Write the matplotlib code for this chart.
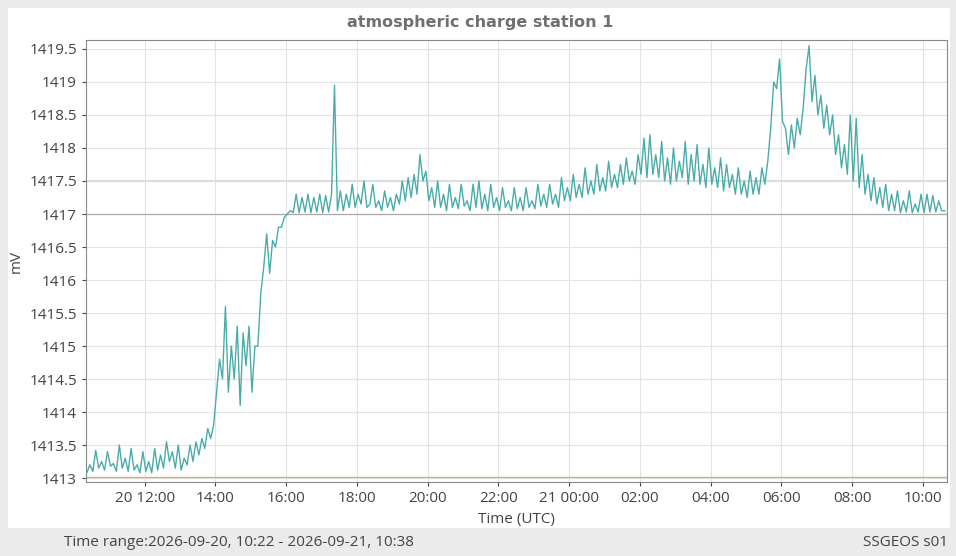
import numpy as np
import matplotlib
matplotlib.use("Agg")
import matplotlib.pyplot as plt
from matplotlib.patches import Rectangle

# Hours since 2026-09-20 00:00 UTC; samples every 5 min from 10:22
start_hour = 10 + 22/60
step_hour = 5/60
values = [
 1413.08,1413.2,1413.1,1413.42,1413.15,1413.25,1413.12,1413.4,1413.18,1413.22,1413.1,1413.5,
 1413.15,1413.3,1413.1,1413.45,1413.12,1413.2,1413.08,1413.4,1413.1,1413.25,1413.08,1413.45,
 1413.12,1413.35,1413.15,1413.55,1413.25,1413.4,1413.15,1413.5,1413.12,1413.3,1413.2,1413.5,
 1413.25,1413.55,1413.35,1413.6,1413.45,1413.75,1413.6,1413.8,1414.3,1414.8,1414.5,1415.6,
 1414.3,1415.0,1414.5,1415.3,1414.1,1415.2,1414.7,1415.3,1414.3,1415.0,1415.0,1415.8,
 1416.2,1416.7,1416.1,1416.6,1416.5,1416.8,1416.8,1416.95,1417.0,1417.05,1417.02,1417.3,
 1417.02,1417.25,1417.03,1417.3,1417.02,1417.25,1417.03,1417.3,1417.02,1417.28,1417.03,1417.3,
 1418.95,1417.05,1417.35,1417.05,1417.3,1417.1,1417.45,1417.1,1417.3,1417.15,1417.5,1417.1,
 1417.15,1417.45,1417.1,1417.2,1417.05,1417.35,1417.1,1417.25,1417.05,1417.3,1417.15,1417.5,
 1417.2,1417.55,1417.25,1417.6,1417.3,1417.9,1417.5,1417.65,1417.2,1417.4,1417.1,1417.5,
 1417.1,1417.3,1417.05,1417.45,1417.1,1417.25,1417.08,1417.45,1417.12,1417.2,1417.05,1417.45,
 1417.1,1417.5,1417.08,1417.3,1417.05,1417.45,1417.1,1417.25,1417.05,1417.4,1417.1,1417.2,
 1417.05,1417.4,1417.08,1417.25,1417.05,1417.4,1417.1,1417.2,1417.08,1417.45,1417.12,1417.3,
 1417.1,1417.45,1417.15,1417.3,1417.1,1417.55,1417.2,1417.4,1417.2,1417.6,1417.25,1417.45,
 1417.25,1417.7,1417.3,1417.5,1417.3,1417.75,1417.35,1417.55,1417.35,1417.8,1417.4,1417.6,
 1417.4,1417.75,1417.45,1417.85,1417.5,1417.65,1417.45,1417.9,1417.6,1418.15,1417.55,1418.2,
 1417.6,1417.9,1417.55,1418.1,1417.5,1417.85,1417.45,1418.0,1417.5,1417.8,1417.55,1418.1,
 1417.45,1417.9,1417.5,1418.05,1417.45,1417.75,1417.4,1418.0,1417.45,1417.7,1417.4,1417.85,
 1417.35,1417.75,1417.4,1417.6,1417.3,1417.7,1417.3,1417.5,1417.25,1417.65,1417.3,1417.55,
 1417.3,1417.7,1417.45,1417.8,1418.3,1419.0,1418.9,1419.35,1418.4,1418.3,1417.9,1418.35,
 1418.0,1418.45,1418.2,1418.6,1419.2,1419.55,1418.7,1419.1,1418.5,1418.8,1418.3,1418.65,
 1418.2,1418.5,1417.9,1418.2,1417.7,1418.05,1417.6,1418.5,1417.5,1418.45,1417.4,1417.9,
 1417.3,1417.6,1417.2,1417.55,1417.15,1417.4,1417.1,1417.45,1417.05,1417.3,1417.05,1417.35,
 1417.02,1417.2,1417.03,1417.35,1417.02,1417.15,1417.03,1417.3,1417.02,1417.3,1417.03,1417.28,
 1417.03,1417.2,1417.05,1417.05,
]
tick_hours = [12, 14, 16, 18, 20, 22, 24, 26, 28, 30, 32, 34]
tick_labels = ["20 12:00", "14:00", "16:00", "18:00", "20:00", "22:00",
               "21 00:00", "02:00", "04:00", "06:00", "08:00", "10:00"]
y_ticks = [1413, 1413.5, 1414, 1414.5, 1415, 1415.5, 1416, 1416.5, 1417,
           1417.5, 1418, 1418.5, 1419, 1419.5]
y_labels = ["1413", "1413.5", "1414", "1414.5", "1415", "1415.5", "1416", "1416.5",
            "1417", "1417.5", "1418", "1418.5", "1419", "1419.5"]

plt.rcParams['font.family'] = ['Open Sans', 'DejaVu Sans']
fig = plt.figure(figsize=(9.56, 5.56), dpi=100, facecolor="#ebebeb")
fig.patches.append(Rectangle((8/956, 28/556), 942/956, 520/556, transform=fig.transFigure,
                             facecolor="white", edgecolor="none", zorder=-10))
ax = fig.add_axes([86/956, 74/556, 861/956, 442/556])
ax.set_zorder(5)
x = start_hour + step_hour * np.arange(len(values))
ax.plot(x, values, color="#4aacaa", lw=1.0, zorder=3)
ax.axhline(1417, color="#aaaaaa", lw=0.9, zorder=2)
ax.axhline(1417.5, color="#dddddd", lw=1.5, zorder=2)
ax.axhline(1413.02, color="#c8b48c", lw=1.0, zorder=2)
ax.set_xlim(10 + 20.5/60, 34 + 41/60)
ax.set_ylim(1412.94, 1419.636)
ax.set_xticks(tick_hours)
ax.set_xticklabels(tick_labels)
ax.set_yticks(y_ticks)
ax.set_yticklabels(y_labels)
ax.grid(True, color="#e3e3e3", lw=0.8)
ax.set_axisbelow(True)
for s in ax.spines.values():
    s.set_color("#888888")
ax.tick_params(colors="#444444", labelsize=11, length=3)
ax.set_xlabel("Time (UTC)", color="#444444", fontsize=11, labelpad=4)
ax.set_ylabel("mV", color="#444444", fontsize=11, labelpad=4)
fig.text(480/956, 1 - 22/556, "atmospheric charge station 1", ha="center", va="center",
         fontsize=11.5, fontweight="bold", color="#707070", family="DejaVu Sans")
fig.text(64/956, 1 - 542/556, "Time range:2026-09-20, 10:22 - 2026-09-21, 10:38",
         ha="left", va="center", fontsize=11, color="#444444")
fig.text(948/956, 1 - 542/556, "SSGEOS s01", ha="right", va="center", fontsize=11, color="#444444")
fig.savefig("out.png", dpi=100, facecolor=fig.get_facecolor())
